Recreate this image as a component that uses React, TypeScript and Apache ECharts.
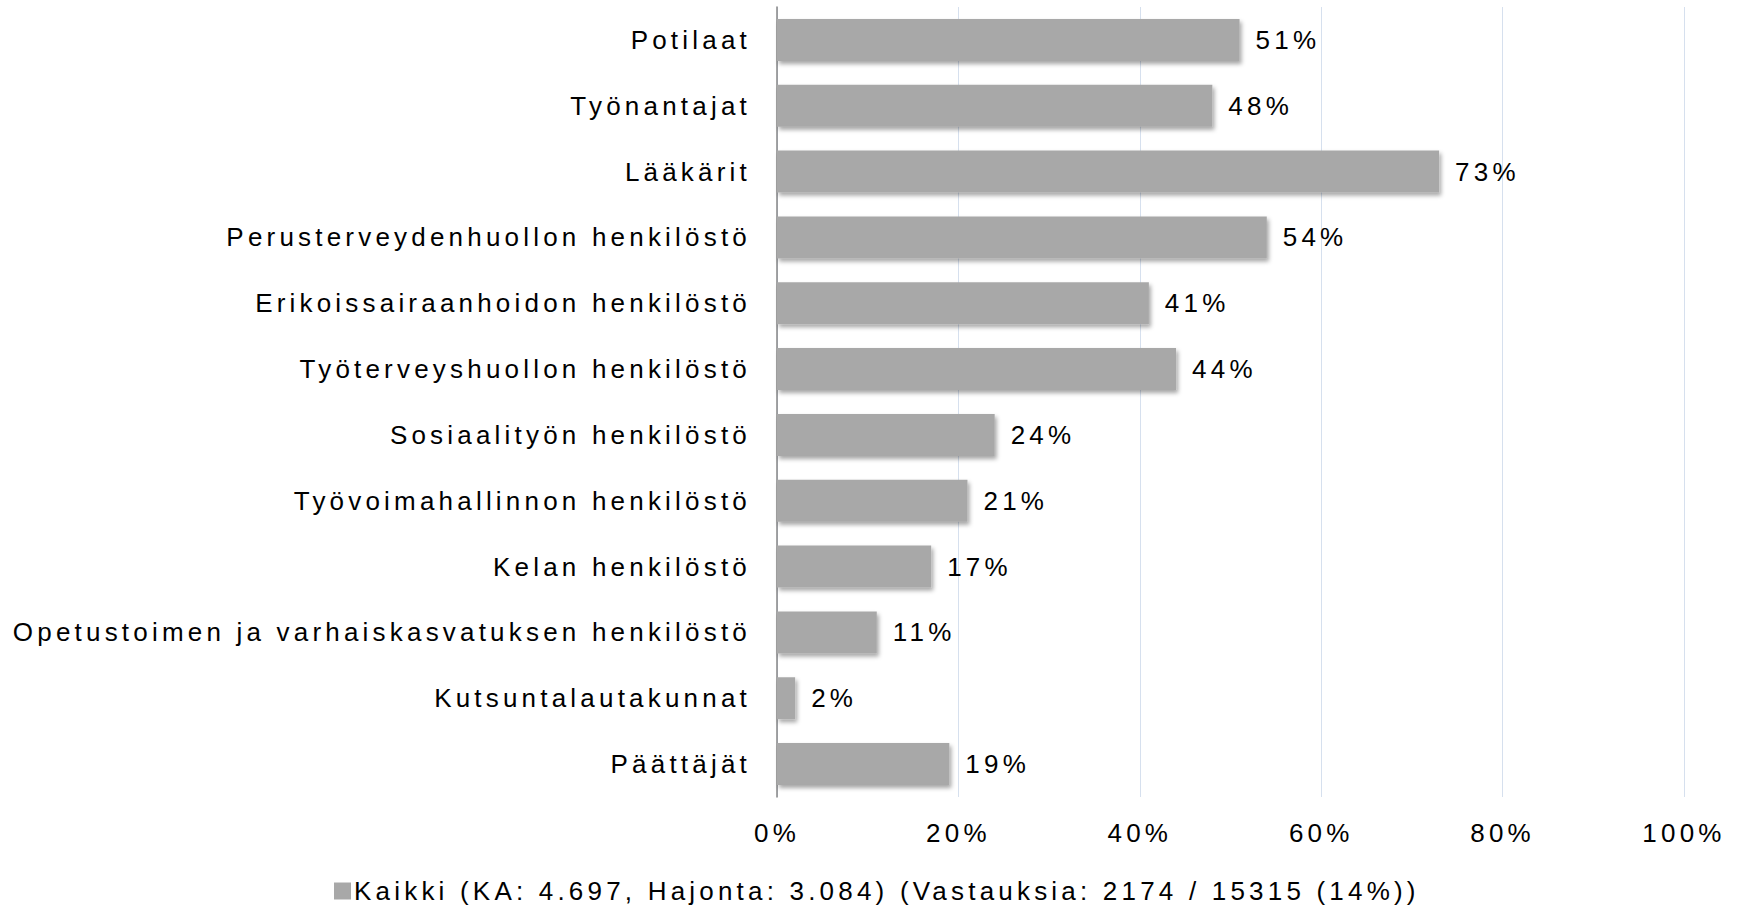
import React, { useEffect, useRef } from "react";
import * as echarts from "echarts";

const categories = [
  "Potilaat",
  "Työnantajat",
  "Lääkärit",
  "Perusterveydenhuollon henkilöstö",
  "Erikoissairaanhoidon henkilöstö",
  "Työterveyshuollon henkilöstö",
  "Sosiaalityön henkilöstö",
  "Työvoimahallinnon henkilöstö",
  "Kelan henkilöstö",
  "Opetustoimen ja varhaiskasvatuksen henkilöstö",
  "Kutsuntalautakunnat",
  "Päättäjät",
];
const values = [51, 48, 73, 54, 41, 44, 24, 21, 17, 11, 2, 19];
const seriesName = "Kaikki (KA: 4.697, Hajonta: 3.084) (Vastauksia: 2174 / 15315 (14%))";

const FONT = "'Liberation Sans', Arial, sans-serif";

export default function App() {
  const ref = useRef<HTMLDivElement>(null);
  useEffect(() => {
    if (!ref.current) return;
    const chart = echarts.init(ref.current, undefined, { renderer: "svg" });
    chart.setOption({
      animation: false,
      backgroundColor: "#ffffff",
      grid: { left: 777, right: 56, top: 7, bottom: 108, containLabel: false },
      legend: {
        left: 334,
        top: 878,
        padding: 0,
        itemWidth: 17,
        itemHeight: 17,
        icon: "rect",
        data: [seriesName],
        textStyle: { fontFamily: FONT, fontSize: 26, color: "#000", lineHeight: 26, padding: [0, 0, 0, -2] },
      },
      xAxis: {
        type: "value",
        min: 0,
        max: 100,
        interval: 20,
        axisLine: { show: false },
        axisTick: { show: false },
        splitLine: { show: true, lineStyle: { color: "#d6e0ee", width: 1 } },
        axisLabel: {
          formatter: "{value}%",
          fontFamily: FONT,
          fontSize: 26,
          color: "#000",
          margin: 23,
        },
      },
      yAxis: {
        type: "category",
        data: categories,
        inverse: true,
        axisLine: { show: true, lineStyle: { color: "#868686", width: 1.5 } },
        axisTick: { show: false },
        axisLabel: {
          fontFamily: FONT,
          fontSize: 26,
          color: "#000",
          margin: 26,
        },
      },
      series: [
        {
          name: seriesName,
          type: "bar",
          data: values,
          barWidth: 42,
          itemStyle: {
            color: "#a8a8a8",
            shadowColor: "rgba(0,0,0,0.35)",
            shadowBlur: 4,
            shadowOffsetX: 2,
            shadowOffsetY: 3,
          },
          label: {
            show: true,
            position: "right",
            distance: 16,
            formatter: "{c}%",
            fontFamily: FONT,
            fontSize: 26,
            color: "#000",
          },
        },
      ],
    });
    return () => chart.dispose();
  }, []);
  return (
    <div
      ref={ref}
      style={{
        position: "fixed",
        left: 0,
        top: 0,
        width: 1740,
        height: 905,
        letterSpacing: "4.2px",
      }}
    />
  );
}
